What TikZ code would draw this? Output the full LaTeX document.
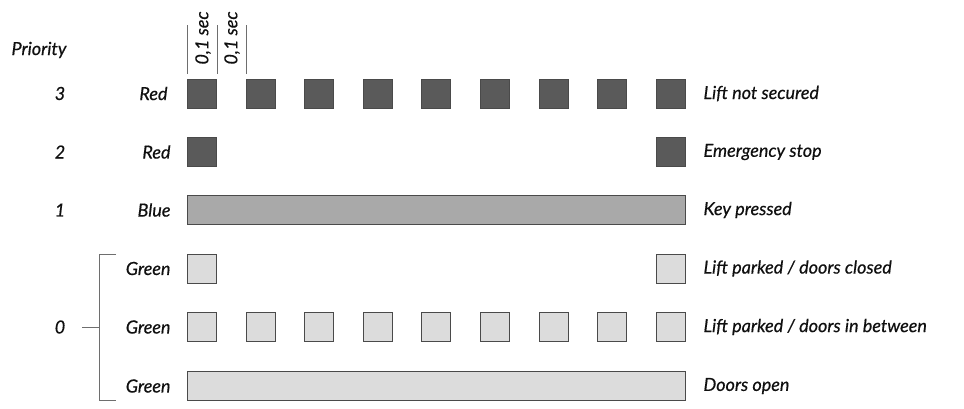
\documentclass[tikz,border=0pt]{standalone}
\usepackage{fontspec}
\setmainfont{Lato}[ItalicFeatures={FakeBold=0.5}]
\usepackage{tikz}
\usetikzlibrary{positioning}

\definecolor{redfill}{HTML}{5A5A5A}
\definecolor{bluefill}{HTML}{A9A9A9}
\definecolor{greenfill}{HTML}{DCDCDC}
\definecolor{edge}{HTML}{4A4A4A}
\definecolor{textcol}{HTML}{101010}

\begin{document}
\begin{tikzpicture}[x=1pt, y=-1pt,
    font=\fontsize{18}{20}\selectfont\itshape, text=textcol,
    lamp/.style={draw=edge, line width=0.9pt, inner sep=0pt, outer sep=0pt,
                 minimum width=29pt, minimum height=29pt},
    redlamp/.style={lamp, fill=redfill},
    greenlamp/.style={lamp, fill=greenfill},
    bar/.style={lamp, minimum width=498pt},
    bluebar/.style={bar, fill=bluefill},
    greenbar/.style={bar, fill=greenfill},
    colour/.style={anchor=east},
    meaning/.style={anchor=west},
    tick/.style={draw=edge!80, line width=0.9pt}]
  \useasboundingbox (0,0) rectangle (964,408);

  \node                            (prio)  at (39, 50)   {Priority};
  \node                            (p3)    at (60, 93.5) {3};
  \node                            (p2)    at (60, 152)  {2};
  \node                            (p1)    at (60, 210)  {1};
  \node                            (p0)    at (60, 327)  {0};

  \node[rotate=90]                 (t1)    at (203, 38)  {0,1 sec};
  \node[rotate=90]                 (t2)    at (232, 38)  {0,1 sec};
  \coordinate (l1a) at (187, 25);  \coordinate (l1b) at (187, 74);
  \coordinate (l2a) at (217, 25);  \coordinate (l2b) at (217, 74);
  \coordinate (l3a) at (246, 25);  \coordinate (l3b) at (246, 74);
  \draw[tick] (l1a) -- (l1b);
  \draw[tick] (l2a) -- (l2b);
  \draw[tick] (l3a) -- (l3b);

  % priority 3
  \node[colour]                    (c3)    at (171, 93.5) {Red};
  \node[redlamp]                   (r3a)   at (202, 93.5)   {};
  \node[redlamp]                   (r3b)   at (260.6, 93.5) {};
  \node[redlamp]                   (r3c)   at (319.2, 93.5) {};
  \node[redlamp]                   (r3d)   at (377.8, 93.5) {};
  \node[redlamp]                   (r3e)   at (436.4, 93.5) {};
  \node[redlamp]                   (r3f)   at (495, 93.5)   {};
  \node[redlamp]                   (r3g)   at (553.6, 93.5) {};
  \node[redlamp]                   (r3h)   at (612.2, 93.5) {};
  \node[redlamp]                   (r3i)   at (670.8, 93.5) {};
  \node[meaning]                   (m3)    at (700, 93.5) {Lift not secured};

  % priority 2
  \node[colour]                    (c2)    at (174, 152) {Red};
  \node[redlamp]                   (r2a)   at (202, 152)   {};
  \node[redlamp]                   (r2i)   at (670.8, 152) {};
  \node[meaning]                   (m2)    at (700, 152) {Emergency stop};

  % priority 1
  \node[colour]                    (c1)    at (174, 210) {Blue};
  \node[bluebar]                   (b1)    at (436.5, 210) {};
  \node[meaning]                   (m1)    at (700, 210) {Key pressed};

  % priority 0
  \node[colour]                    (c0a)   at (174, 268.5) {Green};
  \node[greenlamp]                 (g1a)   at (202, 268.5)   {};
  \node[greenlamp]                 (g1i)   at (670.8, 268.5) {};
  \node[meaning]                   (m0a)   at (700, 268.5) {Lift parked / doors closed};

  \node[colour]                    (c0b)   at (174, 327) {Green};
  \node[greenlamp]                 (g2a)   at (202, 327)   {};
  \node[greenlamp]                 (g2b)   at (260.6, 327) {};
  \node[greenlamp]                 (g2c)   at (319.2, 327) {};
  \node[greenlamp]                 (g2d)   at (377.8, 327) {};
  \node[greenlamp]                 (g2e)   at (436.4, 327) {};
  \node[greenlamp]                 (g2f)   at (495, 327)   {};
  \node[greenlamp]                 (g2g)   at (553.6, 327) {};
  \node[greenlamp]                 (g2h)   at (612.2, 327) {};
  \node[greenlamp]                 (g2i)   at (670.8, 327) {};
  \node[meaning]                   (m0b)   at (700, 327) {Lift parked / doors in between};

  \node[colour]                    (c0c)   at (174, 386) {Green};
  \node[greenbar]                  (g3)    at (436.5, 386) {};
  \node[meaning]                   (m0c)   at (700, 386) {Doors open};

  % bracket
  \coordinate (k1) at (116, 254);  \coordinate (k2) at (99, 254);
  \coordinate (k3) at (99, 400);   \coordinate (k4) at (116, 400);
  \coordinate (k5) at (82, 327);   \coordinate (k6) at (99, 327);
  \draw[tick] (k1) -- (k2) -- (k3) -- (k4);
  \draw[tick] (k5) -- (k6);
\end{tikzpicture}
\end{document}
